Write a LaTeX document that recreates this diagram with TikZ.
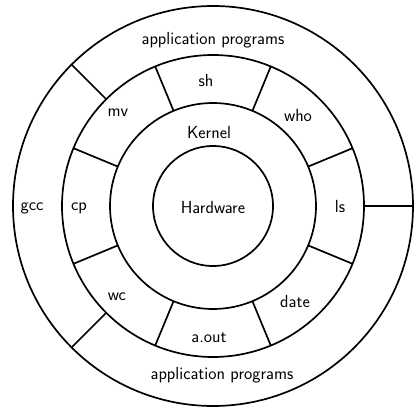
\documentclass[tikz,border=0pt]{standalone}
\begin{document}
\begin{tikzpicture}[x=1pt,y=1pt,
  ring/.style={line width=1.7pt},
  lbl/.style={font=\sffamily\fontsize{17.5}{21}\selectfont, inner sep=0pt}]
\useasboundingbox (0,0) rectangle (418,416);
\coordinate (c) at (213,210);
\draw[ring] (c) circle (200);
\draw[ring] (c) circle (151);
\draw[ring] (c) circle (103);
\draw[ring] (c) circle (60);
\foreach \a in {22.5,67.5,...,337.5}
  \draw[ring,shift={(c)}] (\a:103) -- (\a:151);
\foreach \a in {0,135,225}
  \draw[ring,shift={(c)}] (\a:151) -- (\a:200);
\node[lbl] (apptop) at (213,376) {application programs};
\node[lbl] (appbot) at (222,41) {application programs};
\node[lbl] (gcc) at (32,208) {gcc};
\node[lbl] (cp) at (79,208) {cp};
\node[lbl] (ls) at (340,210) {ls};
\node[lbl] (mv) at (118,303) {mv};
\node[lbl] (sh) at (206,336) {sh};
\node[lbl] (who) at (298,301) {who};
\node[lbl] (kernel) at (209,284) {Kernel};
\node[lbl] (hw) at (213,209) {Hardware};
\node[lbl] (wc) at (117,119) {wc};
\node[lbl] (date) at (295,115) {date};
\node[lbl] (aout) at (209,78) {a.out};
\end{tikzpicture}
\end{document}
